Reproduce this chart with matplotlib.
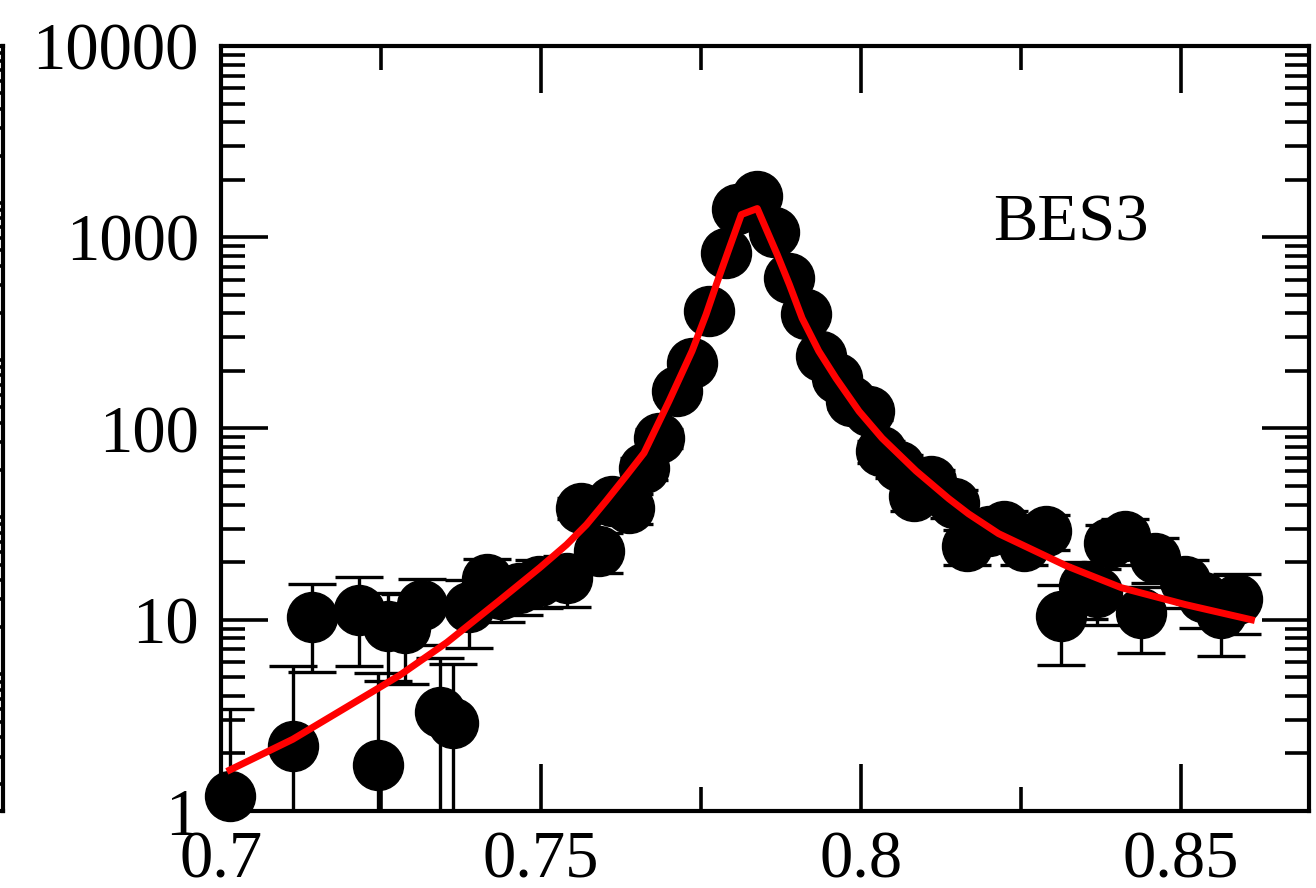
import numpy as np
import matplotlib
matplotlib.use('Agg')
from matplotlib import pyplot as plt
from matplotlib import ticker

plt.rcParams['font.family'] = ['Liberation Serif', 'DejaVu Serif']

# BES3 data points (x, counts, error)
x_data = [0.7014, 0.7112, 0.7142, 0.7216, 0.7245, 0.7261, 0.7287, 0.7314, 0.7342, 0.7362,
          0.7388, 0.7415, 0.7438, 0.7466, 0.7497, 0.7540, 0.7563, 0.7591, 0.7611, 0.7638,
          0.7661, 0.7685, 0.7713, 0.7736, 0.7763, 0.7789, 0.7807, 0.7838, 0.7864, 0.7888,
          0.7914, 0.7938, 0.7962, 0.7984, 0.8012, 0.8032, 0.8059, 0.8083, 0.8110, 0.8145,
          0.8165, 0.8200, 0.8223, 0.8254, 0.8289, 0.8312, 0.8348, 0.8368, 0.8387, 0.8413,
          0.8437, 0.8460, 0.8507, 0.8535, 0.8562, 0.8587]
y_data = [1.2, 2.2, 10.3, 11.2, 1.74, 9.3, 9.1, 11.9, 3.28, 2.88,
          11.6, 16.4, 13.7, 14.6, 16.0, 16.6, 38.5, 23.0, 41.9, 38.5,
          62, 89, 157, 220, 410, 823, 1413, 1650, 1071, 609,
          395, 239, 183, 139, 123, 76, 64, 44.5, 53, 40.9,
          24.4, 29.2, 31, 24.4, 29.2, 10.5, 15.1, 13.9, 25.3, 27.5,
          10.8, 21.1, 16.0, 13.1, 10.8, 12.9]
y_err = [2.2, 3.5, 5.0, 5.5, 3.5, 4.5, 4.5, 4.5, 3.0, 3.0,
         4.5, 4.5, 4.0, 4.0, 4.5, 5.0, 5.0, 5.5, 6.0, 7.0,
         8, 10, 14, 16, 22, 30, 40, 42, 35, 26,
         21, 17, 15, 13, 12, 10, 9, 7.5, 8, 7,
         5, 6, 6, 5, 6, 4.7, 5, 4.5, 6, 6,
         4.1, 5.5, 4.5, 4, 4.3, 4.5]

# fit curve
x_fit = [0.7014, 0.7112, 0.7243, 0.7279, 0.7353, 0.7435, 0.7498, 0.7540, 0.7571, 0.7602,
         0.7633, 0.7661, 0.7700, 0.7736, 0.7758, 0.7774, 0.7794, 0.7813, 0.7838, 0.7869,
         0.7888, 0.7908, 0.7934, 0.7961, 0.7997, 0.8033, 0.8086, 0.8137, 0.8168, 0.8215,
         0.8320, 0.8407, 0.8507, 0.8610]
y_fit = [1.64, 2.37, 4.33, 5.12, 7.61, 12.6, 18.7, 24.7, 31.4, 41.9,
         56.5, 74.5, 139, 254, 395, 567, 874, 1314, 1413, 813,
         567, 377, 254, 183, 123, 89, 60, 43, 35.8, 28.2,
         19.2, 14.7, 12.0, 10.0]

x_ticks = [0.7, 0.75, 0.8, 0.85]
x_labels = ['0.7', '0.75', '0.8', '0.85']
y_ticks = [1, 10, 100, 1000, 10000]
y_labels = ['1', '10', '100', '1000', '10000']

fig = plt.figure(figsize=(13.16, 8.88), dpi=100)

# edge of the neighbouring panel on the left
ax0 = fig.add_axes([-1, 0.0867, 1 + 3 / 1316, 0.8615])
ax0.set_yscale('log')
ax0.set_ylim(0.135, 1e4)
ax0.set_xticks([])
for s in ax0.spines.values():
    s.set_linewidth(3)
ax0.tick_params(axis='y', which='both', direction='in', left=False, right=True,
                labelleft=False, width=2.6)
ax0.tick_params(axis='y', which='major', length=34)
ax0.tick_params(axis='y', which='minor', length=17)

ax = fig.add_axes([221 / 1316, 77 / 888, 1088 / 1316, 765 / 888])
ax.set_yscale('log')

ax.errorbar(x_data, y_data, yerr=y_err, fmt='none', ecolor='black',
            elinewidth=2.4, capsize=17, capthick=2.4, zorder=2)
ax.plot(x_data, y_data, 'o', color='black', markersize=36, zorder=3, clip_on=False)
ax.plot(x_fit, y_fit, color='#ff0000', linewidth=5, zorder=4)

ax.set_xlim(0.7, 0.87)
ax.set_ylim(1, 10000)

ax.set_xticks(x_ticks)
ax.set_xticklabels(x_labels)
ax.xaxis.set_minor_locator(ticker.FixedLocator([0.725, 0.775, 0.825]))
ax.set_yticks(y_ticks)
ax.set_yticklabels(y_labels)
ax.yaxis.set_minor_locator(ticker.LogLocator(base=10, subs=np.arange(2, 10)))
ax.yaxis.set_minor_formatter(ticker.NullFormatter())

ax.tick_params(which='both', direction='in', top=True, right=True, width=2.6,
               labelsize=48)
ax.tick_params(which='major', length=34)
ax.tick_params(which='minor', length=17)
ax.tick_params(axis='x', pad=14)
ax.tick_params(axis='y', pad=16)
for s in ax.spines.values():
    s.set_linewidth(3)

ax.text(0.7096, 0.746, 'BES3', transform=ax.transAxes, fontsize=48,
        ha='left', va='baseline')

plt.savefig('out.png', dpi=100)
